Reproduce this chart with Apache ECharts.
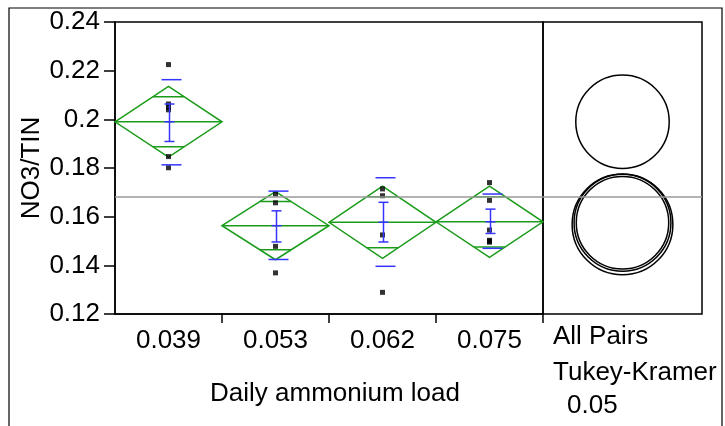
<!DOCTYPE html>
<html><head><meta charset="utf-8">
<script src="https://cdn.jsdelivr.net/npm/echarts@6/dist/echarts.min.js"></script>
<style>html,body{margin:0;padding:0;background:#fff}#c{width:725px;height:426px}</style>
</head><body><div id="c"></div>
<script>
// ---- data ----
const categories = ['0.039', '0.053', '0.062', '0.075'];
const yTicks = [0.12, 0.14, 0.16, 0.18, 0.2, 0.22, 0.24];
const points0039 = [0.2225, 0.2063, 0.2049, 0.2039, 0.1847, 0.1801];
const points0053 = [0.1693, 0.1657, 0.1478, 0.1369];
const points0062 = [0.1714, 0.1686, 0.1525, 0.1289];
const points0075 = [0.1740, 0.1667, 0.1545, 0.1503, 0.1499, 0.1495];
const means   = [0.1990, 0.1563, 0.1577, 0.1579];
const ciHalf  = [0.0145, 0.0140, 0.0148, 0.0146];
const errLow  = [0.1909, 0.1496, 0.1496, 0.1531];
const errHigh = [0.2063, 0.1624, 0.1659, 0.1631];
const sdLow   = [0.1813, 0.1424, 0.1396, 0.1470];
const sdHigh  = [0.2163, 0.1705, 0.1760, 0.1693];
const grandMean = 0.168;
const circleCenters = [0.1990, 0.1568, 0.1575, 0.1575];
const circleRadii   = [0.0192, 0.0207, 0.0199, 0.0190];
const xTitle = 'Daily ammonium load';
const yTitle = 'NO3/TIN';
const panelTexts = ['All Pairs', 'Tukey-Kramer', '0.05'];

// ---- build ----
const FONT = '"Liberation Sans", Arial, sans-serif';
const GREEN = '#1a9c1a', BLUE = '#3535ff';
const groups = [points0039, points0053, points0062, points0075];
const pointData = [];
groups.forEach((arr, i) => arr.forEach(v => pointData.push([i, v])));
const diamondData = categories.map((c, i) => [i, means[i], ciHalf[i]]);
const barData = categories.map((c, i) => [i, means[i], errLow[i], errHigh[i], sdLow[i], sdHigh[i]]);
const circleData = circleCenters.map((c, i) => [0.5, c, circleRadii[i]]);

function line(x1, y1, x2, y2, color, w) {
  return {type: 'line', shape: {x1, y1, x2, y2}, style: {stroke: color, lineWidth: w}};
}

function renderDiamond(params, api) {
  const i = api.value(0), m = api.value(1), ci = api.value(2);
  const c = api.coord([i, m]);
  const hw = api.size([1, 0])[0] / 2;
  const top = api.coord([i, m + ci])[1], bot = api.coord([i, m - ci])[1];
  const d = ci / Math.SQRT2;
  const ot = api.coord([i, m + d])[1], ob = api.coord([i, m - d])[1];
  const ow = hw * (1 - 1 / Math.SQRT2);
  return {type: 'group', children: [
    {type: 'polygon', shape: {points: [[c[0] - hw, c[1]], [c[0], top], [c[0] + hw, c[1]], [c[0], bot]]},
     style: {fill: 'none', stroke: GREEN, lineWidth: 1.5}},
    line(c[0] - hw, c[1], c[0] + hw, c[1], GREEN, 1.5),
    line(c[0] - ow, ot, c[0] + ow, ot, GREEN, 1.5),
    line(c[0] - ow, ob, c[0] + ow, ob, GREEN, 1.5)
  ]};
}

function renderBars(params, api) {
  const i = api.value(0);
  const c = api.coord([i, api.value(1)]);
  const lo = api.coord([i, api.value(2)])[1], hi = api.coord([i, api.value(3)])[1];
  const sl = api.coord([i, api.value(4)])[1], sh = api.coord([i, api.value(5)])[1];
  const x = c[0] + 1;
  return {type: 'group', children: [
    line(x, lo, x, hi, BLUE, 1.5),
    line(x - 5, lo, x + 5, lo, BLUE, 1.5),
    line(x - 5, hi, x + 5, hi, BLUE, 1.5),
    line(x - 5, c[1], x + 5, c[1], BLUE, 1.5),
    line(x - 8, sl, x + 12, sl, BLUE, 1.5),
    line(x - 8, sh, x + 12, sh, BLUE, 1.5)
  ]};
}

function renderCircle(params, api) {
  const c = api.coord([api.value(0), api.value(1)]);
  const r = api.size([0, api.value(2)])[1];
  return {type: 'circle', shape: {cx: c[0], cy: c[1], r: r},
          style: {fill: 'none', stroke: '#000', lineWidth: 1.5}};
}

const meanLine = {symbol: 'none', silent: true, precision: 6, label: {show: false},
                  lineStyle: {color: '#9a9a9a', width: 1.5, type: 'solid'}, data: [{yAxis: grandMean}]};

const chart = echarts.init(document.getElementById('c'), null, {renderer: 'canvas'});
chart.setOption({
  animation: false,
  backgroundColor: '#fff',
  textStyle: {fontFamily: FONT},
  grid: [
    {left: 115, top: 22, width: 428, height: 292, show: true, borderColor: '#000', borderWidth: 1.5, backgroundColor: 'transparent'},
    {left: 543, top: 22, width: 159, height: 292, show: true, borderColor: '#000', borderWidth: 1.5, backgroundColor: 'transparent'}
  ],
  xAxis: [
    {type: 'category', gridIndex: 0, data: categories, boundaryGap: true,
     axisLine: {lineStyle: {color: '#000', width: 1.5}},
     axisTick: {show: true, length: 9, interval: (idx) => idx > 0, lineStyle: {color: '#000', width: 1.5}},
     axisLabel: {fontSize: 26, color: '#000', fontFamily: FONT, margin: 14}},
    {type: 'value', gridIndex: 1, min: 0, max: 1, show: false}
  ],
  yAxis: [
    {type: 'value', gridIndex: 0, min: 0.12, max: 0.24, interval: 0.02,
     name: yTitle, nameLocation: 'middle', nameGap: 70, nameMoveOverlap: false,
     nameTextStyle: {fontSize: 26, color: '#000', fontFamily: FONT},
     axisLine: {show: true, lineStyle: {color: '#000', width: 1.5}},
     axisTick: {show: true, length: 11, lineStyle: {color: '#000', width: 1.5}},
     splitLine: {show: false},
     axisLabel: {fontSize: 26, color: '#000', fontFamily: FONT, margin: 15,
                 formatter: v => { const t = yTicks.find(k => Math.abs(k - v) < 1e-9); return t === undefined ? '' : String(t); }}},
    {type: 'value', gridIndex: 1, min: 0.12, max: 0.24, show: false}
  ],
  series: [
    {type: 'custom', name: 'diamonds', xAxisIndex: 0, yAxisIndex: 0, data: diamondData,
     renderItem: renderDiamond, encode: {x: 0, y: 1}, z: 2, silent: true, markLine: meanLine},
    {type: 'scatter', name: 'points', xAxisIndex: 0, yAxisIndex: 0, data: pointData,
     symbol: 'rect', symbolSize: 5, itemStyle: {color: '#000'}, z: 3, silent: true},
    {type: 'custom', name: 'bars', xAxisIndex: 0, yAxisIndex: 0, data: barData,
     renderItem: renderBars, encode: {x: 0, y: 1}, z: 4, silent: true},
    {type: 'custom', name: 'circles', xAxisIndex: 1, yAxisIndex: 1, data: circleData,
     renderItem: renderCircle, encode: {x: 0, y: 1}, z: 3, silent: true, markLine: meanLine}
  ],
  graphic: [
    {type: 'rect', shape: {x: 9, y: 8, width: 713, height: 440}, style: {fill: 'none', stroke: '#000', lineWidth: 1.2}, z: 10},
    {type: 'text', x: 335, y: 394, style: {text: xTitle, font: '26px ' + FONT, fill: '#000', align: 'center', verticalAlign: 'middle'}},
    {type: 'text', x: 553, y: 337, style: {text: panelTexts[0], font: '26px ' + FONT, fill: '#000', align: 'left', verticalAlign: 'middle'}},
    {type: 'text', x: 553, y: 373, style: {text: panelTexts[1], font: '26px ' + FONT, fill: '#000', align: 'left', verticalAlign: 'middle'}},
    {type: 'text', x: 567, y: 406, style: {text: panelTexts[2], font: '26px ' + FONT, fill: '#000', align: 'left', verticalAlign: 'middle'}}
  ]
});
</script>
</body></html>
